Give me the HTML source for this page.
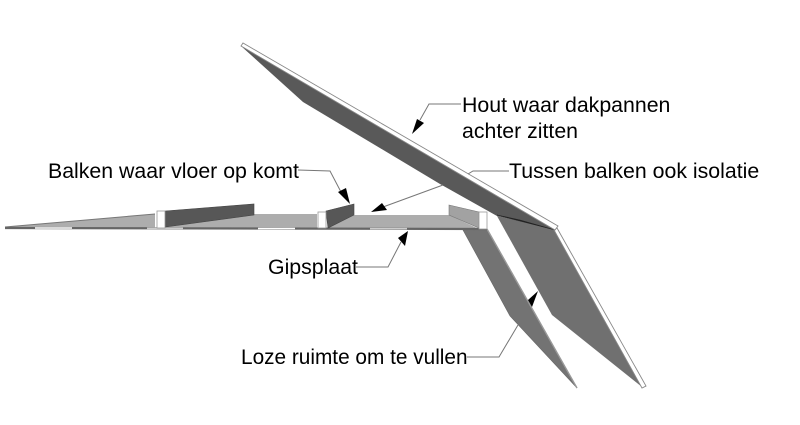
<!DOCTYPE html>
<html><head><meta charset="utf-8"><style>
html,body{margin:0;padding:0;background:#fff;width:800px;height:425px;overflow:hidden}
svg{display:block}
text{font-family:"Liberation Sans",sans-serif;font-size:21.3px;fill:#000}
</style></head><body>
<svg width="800" height="425" viewBox="0 0 800 425" xmlns="http://www.w3.org/2000/svg">
<!-- lower wall panel -->
<polygon points="463,230 487,229 577,388 510,316" fill="#737373" stroke="#666" stroke-width=".6"/>
<line x1="487" y1="229" x2="577" y2="388" stroke="#999" stroke-width="1.4"/>
<!-- right wall panel -->
<polygon points="497,216 555,229 642,387 552,315" fill="#707070"/>
<polygon points="557,228 646,386 642,388 554,230" fill="#fff" stroke="#888" stroke-width=".9"/>
<!-- roof panel -->
<polygon points="241,46 303,102 440,184 497,216 555,230 500,197" fill="#595959"/>
<polygon points="497,215 555,230 520,220" fill="#222" stroke="#222" stroke-width=".6"/>
<polygon points="241,46 243,43 558,226 555,230" fill="#fff" stroke="#888" stroke-width=".9"/>
<!-- floor -->
<polygon points="5,227 155,214 155,228 5,228" fill="#adadad"/>
<line x1="5" y1="227" x2="155" y2="214" stroke="#777" stroke-width="1"/>
<polygon points="165,227 254,214 317,214 317,228 165,228" fill="#adadad"/>
<polygon points="328,228 354,215 449,215 479,229 328,229" fill="#adadad"/>
<line x1="5" y1="228" x2="487" y2="229" stroke="#666" stroke-width="2.2"/>
<g stroke="#ccc" stroke-width="1.6">
<line x1="35" y1="228" x2="72" y2="228" stroke="#fff"/>
<line x1="147" y1="228.3" x2="183" y2="228.3"/>
<line x1="258" y1="228.5" x2="295" y2="228.5" stroke="#fff"/>
<line x1="370" y1="228.7" x2="407" y2="228.7"/>
</g>
<!-- beams -->
<polygon points="165,211 254,204 254,215 165,227" fill="#575757" stroke="#444" stroke-width=".6"/>
<polygon points="326,211 354,204 354,215 328,228" fill="#575757" stroke="#444" stroke-width=".6"/>
<polygon points="449,205 479,212 479,228 449,215" fill="#a2a2a2" stroke="#777" stroke-width=".6"/>
<!-- posts -->
<rect x="157" y="211" width="8" height="17" fill="#fff" stroke="#999" stroke-width=".8"/>
<rect x="318" y="212" width="8" height="16" fill="#fff" stroke="#999" stroke-width=".8"/>
<rect x="479" y="212" width="8" height="17" fill="#fff" stroke="#999" stroke-width=".8"/>
<!-- leaders -->
<g fill="none" stroke="#777" stroke-width="1">
<polyline points="461,104 429,104 420,120"/>
<polyline points="298,170 330,171 341,192"/>
<polyline points="509,171 473,171 468,174"/>
<polyline points="443,185 383,207"/>
<polyline points="356,267 388,267 401,242"/>
<polyline points="467,357 499,357 518,325"/>
</g>
<!-- arrowheads -->
<g fill="#000">
<polygon points="412,134 417,119 424,123"/>
<polygon points="350,204 338,192 346,188"/>
<polygon points="371,212 382,203 387,210"/>
<polygon points="408,231 398,238 405,246"/>
<polygon points="538,291 528,300 532,307"/>
</g>
<!-- labels -->
<text x="462" y="112">Hout waar dakpannen</text>
<text x="462" y="138">achter zitten</text>
<text x="48" y="178">Balken waar vloer op komt</text>
<text x="509" y="178">Tussen balken ook isolatie</text>
<text x="268" y="274">Gipsplaat</text>
<text x="241" y="364" style="font-size:20.8px">Loze ruimte om te vullen</text>
</svg>
</body></html>
